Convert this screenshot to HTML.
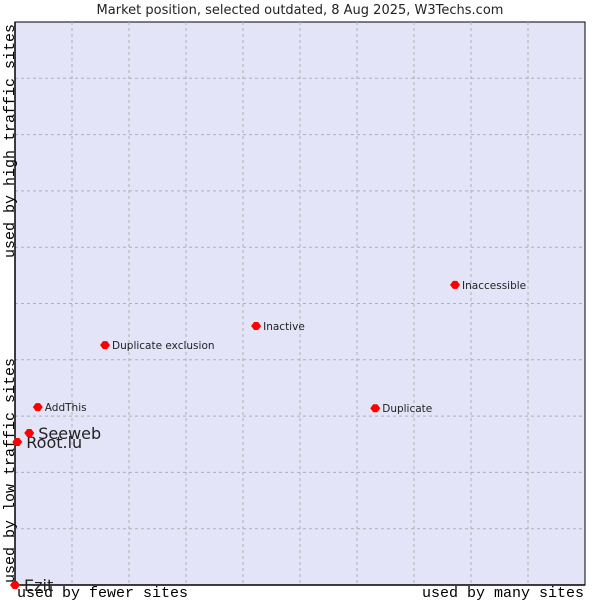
<!DOCTYPE html>
<html><head><meta charset="utf-8"><style>
body{margin:0;background:#fff;font-family:"DejaVu Sans","Liberation Sans",sans-serif}
svg text{font-family:"DejaVu Sans","Liberation Sans",sans-serif}
</style></head><body>
<svg id="c" width="600" height="600" xmlns="http://www.w3.org/2000/svg">
<text x="300" y="14" text-anchor="middle" font-size="13" fill="#222">Market position, selected outdated, 8 Aug 2025, W3Techs.com</text>
<rect x="15" y="22" width="570" height="563" fill="#e3e4f8" stroke="#000" stroke-width="1"/>
<g id="grid"></g>
<line x1="15" y1="22" x2="15" y2="585" stroke="#000" stroke-width="1.5"/>
<line x1="15" y1="585" x2="585" y2="585" stroke="#000" stroke-width="1.5"/>
<text x="17" y="597" font-size="15" fill="#000" style="font-family:'Liberation Mono',monospace">used by fewer sites</text>
<text x="584" y="597" text-anchor="end" font-size="15" fill="#000" style="font-family:'Liberation Mono',monospace">used by many sites</text>
<text transform="translate(14,583) rotate(-90)" font-size="15" fill="#000" style="font-family:'Liberation Mono',monospace">used by low traffic sites</text>
<text transform="translate(14,24) rotate(-90)" text-anchor="end" font-size="15" fill="#000" style="font-family:'Liberation Mono',monospace">used by high traffic sites</text>
<g id="pts"></g>
</svg>
<script>
const names=["Ezit","Root.lu","Seeweb","AddThis","Duplicate exclusion","Inactive","Duplicate","Inaccessible"];
const xs=[0,0.4,2.5,4.0,15.8,42.3,63.2,77.2];
const ys=[0,25.4,27.0,31.6,42.6,46.0,31.4,53.3];
const big=[true,true,true,false,false,false,false,false];
const NS="http://www.w3.org/2000/svg";
const X=v=>15+v/100*570, Y=v=>585-v/100*563;
const g=document.getElementById('grid');
for(let i=1;i<10;i++){
 let l=document.createElementNS(NS,'line');
 l.setAttribute('x1',X(i*10));l.setAttribute('x2',X(i*10));l.setAttribute('y1',22);l.setAttribute('y2',585);
 l.setAttribute('stroke','#b0b0b0');l.setAttribute('stroke-dasharray','3,3');
 
 
 g.appendChild(l);
 let h=document.createElementNS(NS,'line');
 h.setAttribute('y1',Y(i*10));h.setAttribute('y2',Y(i*10));h.setAttribute('x1',15);h.setAttribute('x2',585);
 h.setAttribute('stroke','#b0b0b0');h.setAttribute('stroke-dasharray','3,3');
 
 
 g.appendChild(h);
}
const p=document.getElementById('pts');
names.forEach((n,i)=>{
 const cx=X(xs[i]),cy=Y(ys[i]);
 let d=document.createElementNS(NS,'path');
 d.setAttribute('d',`M${cx-5},${cy}L${cx-2},${cy-4}L${cx+2},${cy-4}L${cx+5},${cy}L${cx+2},${cy+4}L${cx-2},${cy+4}Z`);
 d.setAttribute('fill','#f00');
 
 
 p.appendChild(d);
 let t=document.createElementNS(NS,'text');
 t.setAttribute('x',cx+(big[i]?9:7));t.setAttribute('y',cy+(big[i]?6:4));
 t.setAttribute('font-size',big[i]?16:10.5);t.setAttribute('fill','#222');
 t.textContent=n;
 
 
 p.appendChild(t);
});
</script>
</body></html>
